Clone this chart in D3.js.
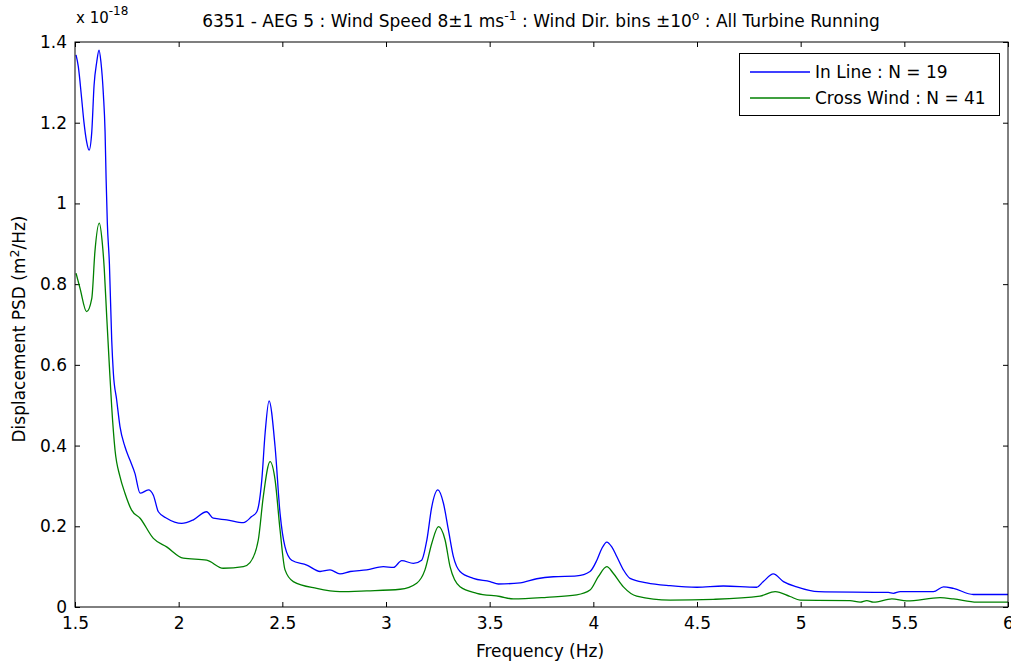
<!DOCTYPE html>
<html><head><meta charset="utf-8">
<script src="https://cdn.jsdelivr.net/npm/d3@7"></script>
<style>
html,body{margin:0;padding:0;background:#fff;}
text{font-family:"DejaVu Sans",sans-serif;fill:#000;}
</style></head>
<body>
<svg id="chart" width="1011" height="664"></svg>
<script>
const inLineFreq = [1.505,1.516,1.532,1.543,1.556,1.568,1.581,1.592,1.605,1.616,1.625,1.637,1.645,1.650,1.656,1.666,1.677,1.685,1.701,1.717,1.741,1.765,1.789,1.814,1.854,1.878,1.902,1.942,2.015,2.071,2.135,2.167,2.232,2.312,2.352,2.377,2.401,2.417,2.436,2.465,2.489,2.513,2.545,2.618,2.682,2.730,2.778,2.827,2.907,2.987,3.036,3.076,3.132,3.172,3.197,3.221,3.250,3.277,3.301,3.325,3.357,3.421,3.502,3.542,3.647,3.727,3.807,3.920,3.984,4.017,4.041,4.065,4.089,4.113,4.145,4.177,4.258,4.370,4.499,4.627,4.788,4.820,4.868,4.917,4.981,5.086,5.423,5.447,5.480,5.640,5.689,5.737,5.833,6.000];
const inLineVals = [1.368,1.339,1.260,1.202,1.153,1.132,1.178,1.293,1.351,1.380,1.351,1.269,1.178,1.062,0.951,0.850,0.662,0.580,0.513,0.447,0.397,0.364,0.331,0.282,0.290,0.277,0.236,0.220,0.207,0.216,0.236,0.220,0.216,0.209,0.224,0.236,0.315,0.431,0.511,0.397,0.232,0.149,0.116,0.104,0.088,0.092,0.082,0.088,0.092,0.100,0.098,0.115,0.108,0.116,0.166,0.249,0.290,0.257,0.191,0.125,0.088,0.071,0.063,0.057,0.060,0.070,0.075,0.077,0.088,0.116,0.145,0.161,0.149,0.125,0.092,0.071,0.060,0.053,0.049,0.052,0.049,0.063,0.082,0.063,0.050,0.038,0.036,0.034,0.038,0.038,0.050,0.046,0.031,0.031];
const crossFreq = [1.505,1.524,1.556,1.581,1.596,1.617,1.632,1.641,1.653,1.666,1.677,1.693,1.717,1.741,1.773,1.814,1.878,1.942,2.022,2.135,2.215,2.312,2.344,2.384,2.408,2.441,2.465,2.489,2.513,2.553,2.666,2.778,2.907,3.068,3.148,3.188,3.221,3.253,3.285,3.309,3.357,3.438,3.550,3.614,3.775,3.920,3.984,4.024,4.065,4.097,4.145,4.209,4.370,4.579,4.804,4.877,4.949,4.997,5.238,5.287,5.319,5.351,5.440,5.512,5.673,5.737,5.850,6.000];
const crossVals = [0.827,0.790,0.732,0.765,0.880,0.951,0.900,0.839,0.719,0.595,0.496,0.389,0.323,0.282,0.240,0.220,0.170,0.149,0.121,0.116,0.096,0.100,0.110,0.166,0.273,0.360,0.315,0.191,0.092,0.063,0.046,0.038,0.040,0.044,0.059,0.092,0.158,0.199,0.166,0.100,0.050,0.034,0.026,0.020,0.024,0.030,0.042,0.075,0.100,0.083,0.050,0.027,0.017,0.019,0.027,0.038,0.026,0.017,0.016,0.012,0.016,0.012,0.020,0.015,0.023,0.020,0.012,0.012];
const xTicks = [1.5,2,2.5,3,3.5,4,4.5,5,5.5,6];
const yTicks = [0,0.2,0.4,0.6,0.8,1,1.2,1.4];
const seriesNames = ["In Line : N = 19","Cross Wind : N = 41"];
const seriesColors = ["#0000ff","#008000"];

const svg = d3.select("#chart");
const L = 75, R = 1008, T = 42, B = 607;
const x = d3.scaleLinear().domain([1.5,6]).range([L,R]);
const y = d3.scaleLinear().domain([0,1.4]).range([B,T]);

const fs = 17;
const ff = "DejaVu Sans, sans-serif";
const gx = svg.append("g").attr("transform",`translate(0,${B})`)
  .call(d3.axisBottom(x).tickValues(xTicks).tickFormat(d3.format("")).tickSizeInner(-5).tickSizeOuter(0).tickPadding(10));
const gxt = svg.append("g").attr("transform",`translate(0,${T})`)
  .call(d3.axisTop(x).tickValues(xTicks).tickFormat("").tickSizeInner(-5).tickSizeOuter(0));
const gy = svg.append("g").attr("transform",`translate(${L},0)`)
  .call(d3.axisLeft(y).tickValues(yTicks).tickFormat(d3.format("")).tickSizeInner(-5).tickSizeOuter(0).tickPadding(8));
const gyr = svg.append("g").attr("transform",`translate(${R},0)`)
  .call(d3.axisRight(y).tickValues(yTicks).tickFormat("").tickSizeInner(-5).tickSizeOuter(0));
[gx,gxt,gy,gyr].forEach(g=>{
  g.selectAll(".domain").remove();
  g.selectAll("line").attr("stroke","#000");
  g.selectAll("text").attr("font-size",fs).attr("font-family",ff).attr("fill","#000");
});

const cols = [[inLineFreq,inLineVals],[crossFreq,crossVals]];
const line = d3.line().x(d=>x(d[0])).y(d=>y(d[1])).curve(d3.curveMonotoneX);
svg.append("clipPath").attr("id","clp").append("rect").attr("x",L).attr("y",T).attr("width",R-L).attr("height",B-T);
cols.forEach((c,i)=>{
  const pts = c[0].map((f,j)=>[f,c[1][j]]);
  svg.append("path").datum(pts).attr("d",line).attr("fill","none")
    .attr("stroke",seriesColors[i]).attr("stroke-width",1.3).attr("clip-path","url(#clp)");
});

svg.append("rect").attr("x",L).attr("y",T).attr("width",R-L).attr("height",B-T)
  .attr("fill","none").attr("stroke","#000").attr("stroke-width",1);

const ex = svg.append("text").attr("x",76).attr("y",23).attr("font-size",15);
ex.append("tspan").text("x 10");
ex.append("tspan").attr("dy",-8).attr("font-size",12).text("-18");

const t = svg.append("text").attr("x",541).attr("y",27).attr("text-anchor","middle").attr("font-size",fs);
t.append("tspan").text("6351 - AEG 5 : Wind Speed 8±1 ms");
t.append("tspan").attr("dy",-7).attr("font-size",12.5).text("-1");
t.append("tspan").attr("dy",7).text(" : Wind Dir. bins ±10");
t.append("tspan").attr("dy",-7).attr("font-size",12.5).text("o");
t.append("tspan").attr("dy",7).text(" : All Turbine Running");

svg.append("text").attr("x",540).attr("y",657).attr("text-anchor","middle").attr("font-size",fs).text("Frequency (Hz)");
const yl = svg.append("text").attr("transform","translate(25,329) rotate(-90)").attr("text-anchor","middle").attr("font-size",fs);
yl.append("tspan").text("Displacement PSD (m");
yl.append("tspan").attr("dy",-6).attr("font-size",12.5).text("2");
yl.append("tspan").attr("dy",6).text("/Hz)");

const lg = svg.append("g");
lg.append("rect").attr("x",739.5).attr("y",53.5).attr("width",260).attr("height",62).attr("fill","#fff").attr("stroke","#000");
seriesNames.forEach((n,i)=>{
  const yy = 72 + i*26;
  lg.append("line").attr("x1",750).attr("x2",810).attr("y1",yy).attr("y2",yy).attr("stroke",seriesColors[i]).attr("stroke-width",1.3);
  lg.append("text").attr("x",815).attr("y",yy+6).attr("font-size",fs).text(n);
});
</script>
</body></html>
